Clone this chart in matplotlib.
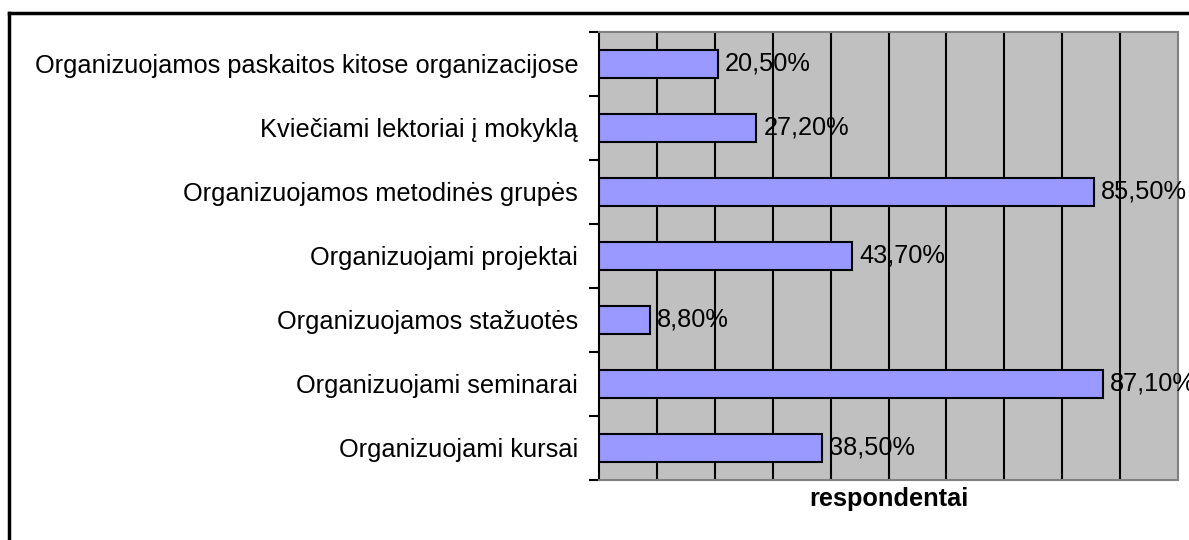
import matplotlib
matplotlib.use("Agg")
import matplotlib.pyplot as plt
from matplotlib.lines import Line2D
from matplotlib.ticker import FixedLocator, NullFormatter

plt.rcParams['font.family'] = ['Liberation Sans', 'DejaVu Sans']

categories = [
    "Organizuojami kursai",
    "Organizuojami seminarai",
    "Organizuojamos stažuotės",
    "Organizuojami projektai",
    "Organizuojamos metodinės grupės",
    "Kviečiami lektoriai į mokyklą",
    "Organizuojamos paskaitos kitose organizacijose",
]
values = [38.5, 87.1, 8.8, 43.7, 85.5, 27.2, 20.5]
value_labels = ["38,50%", "87,10%", "8,80%", "43,70%", "85,50%", "27,20%", "20,50%"]
x_label = "respondentai"

W, H = 1189, 540
FS = 18.3
fig = plt.figure(figsize=(W / 100, H / 100), dpi=100)
ax = fig.add_axes([599 / W, 1 - 480 / H, (1178 - 599) / W, (480 - 32) / H])
ax.set_facecolor('#C0C0C0')

ypos = list(range(len(categories)))
ax.barh(ypos, values, height=0.43, color='#9999FF', edgecolor='black', linewidth=1.5, zorder=3)
ax.set_xlim(0, 100)
ax.set_ylim(-0.5, len(categories) - 0.5)

for x in range(10, 100, 10):
    ax.axvline(x, color='black', linewidth=1.5, zorder=2)

for y, v, lab in zip(ypos, values, value_labels):
    ax.annotate(lab, (v, y), xytext=(5, 0), textcoords='offset points',
                va='center', ha='left', fontsize=FS, zorder=4, annotation_clip=False)

ax.set_yticks(ypos)
ax.set_yticklabels(categories, fontsize=FS)
ax.tick_params(axis='y', which='major', length=0, pad=15)
ax.yaxis.set_minor_locator(FixedLocator([i - 0.5 for i in range(len(categories) + 1)]))
ax.yaxis.set_minor_formatter(NullFormatter())
ax.tick_params(axis='y', which='minor', length=7, width=1.5, direction='out', color='black')
ax.set_xticks([])
ax.set_xlabel(x_label, fontsize=FS, fontweight='bold', labelpad=5)

for s in ['top', 'right', 'bottom']:
    ax.spines[s].set_color('#808080')
    ax.spines[s].set_linewidth(1.5)
ax.spines['left'].set_color('black')
ax.spines['left'].set_linewidth(1.5)

# outer chart border (left and top visible, extends past right/bottom edges)
fig.add_artist(Line2D([9 / W, 9 / W], [0, 1 - 13 / H], color='black', linewidth=2.5, transform=fig.transFigure))
fig.add_artist(Line2D([9 / W, 1], [1 - 13 / H, 1 - 13 / H], color='black', linewidth=2.5, transform=fig.transFigure))

fig.savefig('out.png', dpi=100, facecolor='white')
